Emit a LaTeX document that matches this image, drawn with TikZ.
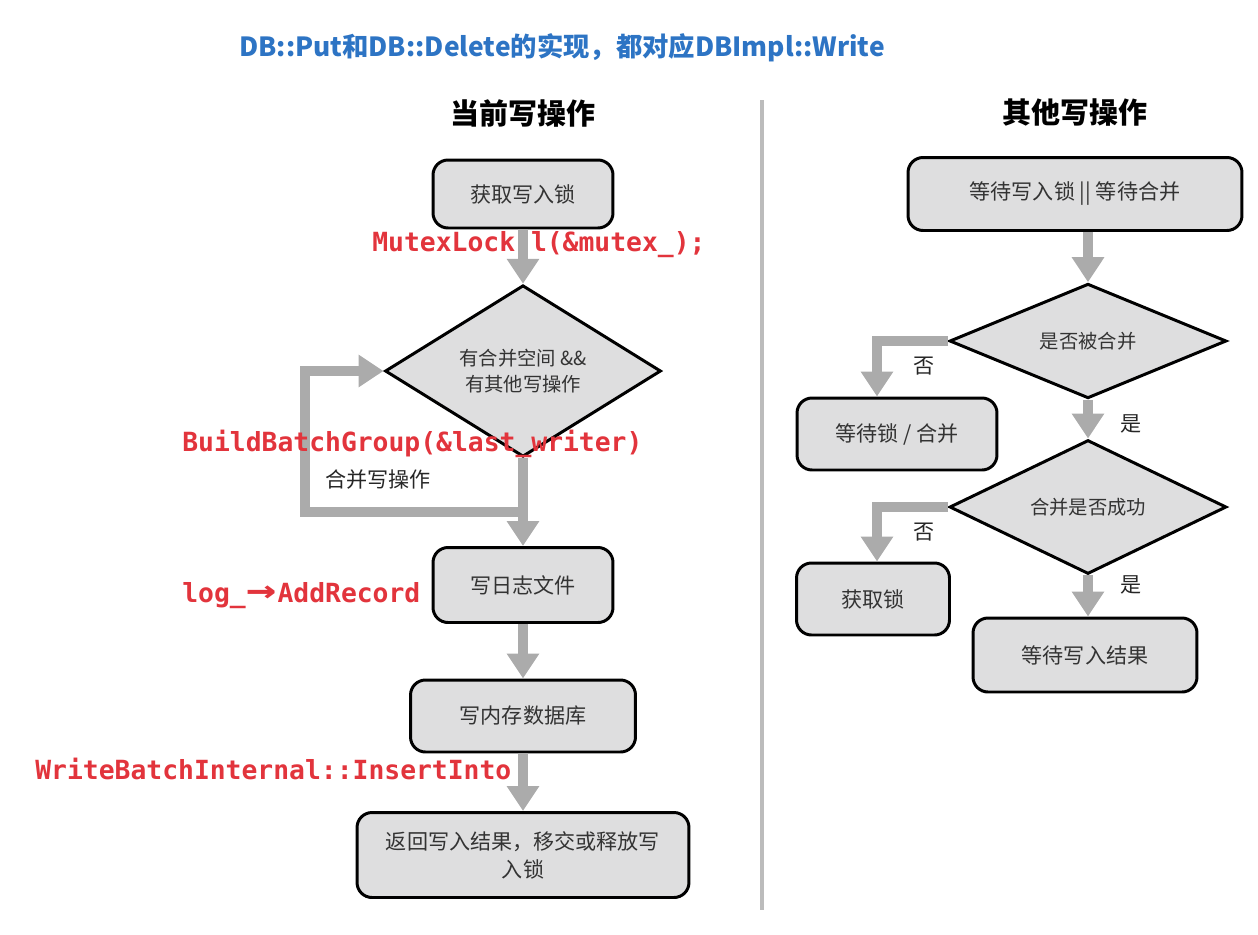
\documentclass[tikz,border=0pt]{standalone}
\usepackage{fontspec}
\usepackage{xcolor}
\usepackage{graphicx}
\usepackage{tikz}
\usetikzlibrary{shapes.geometric, arrows.meta, calc}

\newfontfamily\cjk{Noto Sans CJK SC}
\newfontfamily\codefont{DejaVu Sans Mono}

\definecolor{boxgray}{HTML}{DEDEDF}
\definecolor{flowgray}{HTML}{ABABAB}
\definecolor{codered}{HTML}{E2343C}
\definecolor{titleblue}{HTML}{2D74C4}

\begin{document}
\begin{tikzpicture}[x = 0.02cm, y = -0.02cm,
		stepbox/.style = {draw = black, line width = 1.7pt, fill = boxgray, rounded corners = 0.3cm, inner sep = 0pt, align = center, text = black!80, font = \cjk\fontsize{12pt}{16pt}\selectfont},
		test/.style = {diamond, draw = black, line width = 1.7pt, fill = boxgray, inner sep = 0pt, align = center, text = black!80, font = \cjk\fontsize{11pt}{15pt}\selectfont},
		flow/.style = {draw = flowgray, line width = 0.2cm, -{Triangle[width = 0.62cm, length = 0.5cm]}},
		code/.style = {anchor = west, inner sep = 0pt, text = codered, font = \codefont\bfseries\fontsize{15pt}{18pt}\selectfont},
		note/.style = {text = black!85, font = \cjk\fontsize{12pt}{15pt}\selectfont},
		head/.style = {font = \cjk\bfseries\fontsize{16.5pt}{20pt}\selectfont}]
		\def\lx{523};
		\def\rx{1088};
		
		\useasboundingbox (0,0) rectangle (1258,934);
		
		\node [text = titleblue, font = \cjk\bfseries\fontsize{15pt}{18pt}\selectfont] (title) at (562,48) {DB::Put和DB::Delete的实现，都对应DBImpl::Write};
		
		\node [head] (curhead) at (\lx,113) {当前写操作};
		\node [head] (otherhead) at (1075,113) {其他写操作};
		
		\draw [line width = 0.08cm, color = flowgray!80] (762,100) -- (762,910);
		
		% current write
		\node [stepbox, minimum width = 3.6cm, minimum height = 1.36cm] (lock) at (\lx,194) {获取写入锁};
		\node [test, minimum width = 5.52cm, minimum height = 3.36cm] (room) at (\lx,371) {有合并空间 \&\&\\有其他写操作};
		\node [stepbox, minimum width = 3.6cm, minimum height = 1.5cm] (log) at (\lx,585) {写日志文件};
		\node [stepbox, minimum width = 4.5cm, minimum height = 1.44cm] (mem) at (\lx,716) {写内存数据库};
		\node [stepbox, minimum width = 6.64cm, minimum height = 1.7cm] (ret) at (\lx,855) {返回写入结果，移交或释放写\\入锁};
		
		\coordinate (merge) at (\lx,512);
		\coordinate (back) at (305,371);
		
		\draw [flow] (lock) -- (room);
		\draw [flow] (room.south) -- (log.north);
		\draw [flow] (merge) -| (back) -- (room.west);
		\draw [flow] (log) -- (mem);
		\draw [flow] (mem) -- (ret);
		
		\node [note] (mergelbl) at (378,480) {合并写操作};
		
		% other writes
		\node [stepbox, minimum width = 6.68cm, minimum height = 1.46cm] (wait) at (1075,194) {等待写入锁 || 等待合并};
		\node [test, minimum width = 5.54cm, minimum height = 2.16cm] (merged) at (\rx,341) {是否被合并};
		\node [stepbox, minimum width = 4cm, minimum height = 1.44cm] (waitagain) at (897,434) {等待锁 / 合并};
		\node [test, minimum width = 5.54cm, minimum height = 2.14cm] (ok) at (\rx,507) {合并是否成功};
		\node [stepbox, minimum width = 3.06cm, minimum height = 1.44cm] (getlock) at (873,599) {获取锁};
		\node [stepbox, minimum width = 4.48cm, minimum height = 1.48cm] (result) at (1085,655) {等待写入结果};
		
		\coordinate (nox) at (877,0);
		
		\draw [flow] (wait.south -| merged.north) -- (merged.north);
		\draw [flow] (merged.west) -| (nox |- waitagain.north);
		\draw [flow] (merged.south) -- (ok.north);
		\draw [flow] (ok.west) -| (nox |- getlock.north);
		\draw [flow] (ok.south) -- (ok.south |- result.north);
		
		\node [note] (no1) at (924,366) {否};
		\node [note] (yes1) at (1131,424) {是};
		\node [note] (no2) at (924,532) {否};
		\node [note] (yes2) at (1131,585) {是};
		
		% code
		\node [code] (mutex) at (372,245) {MutexLock l(\&mutex\_);};
		\node [code] (group) at (182,444) {BuildBatchGroup(\&last\_writer)};
		\node [code] (addrec) at (182,596) {log\_\makebox[1.204em]{\scalebox{1.9}[1.4]{→}}AddRecord};
		\node [code] (insert) at (35,769) {WriteBatchInternal::InsertInto};
	\end{tikzpicture}
\end{document}
